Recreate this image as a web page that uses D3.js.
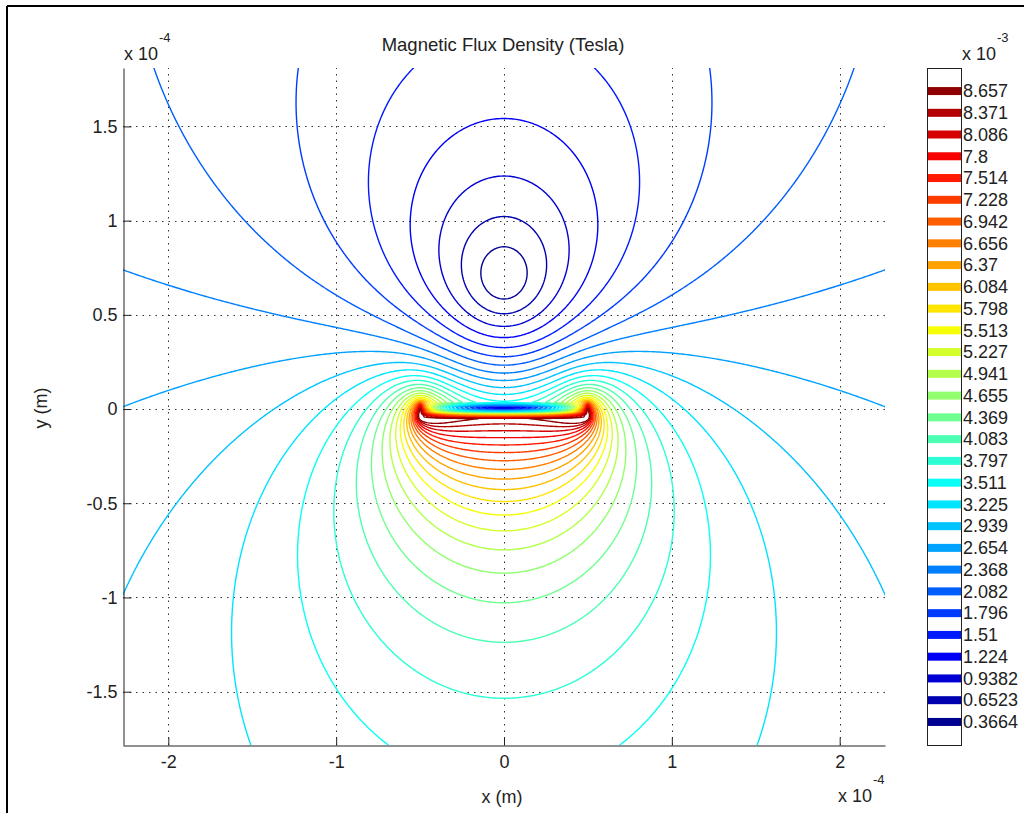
<!DOCTYPE html>
<html>
<head>
<meta charset="utf-8">
<script src="https://cdn.jsdelivr.net/npm/d3@7"></script>
<style>
  body { margin: 0; background: #fff; }
  text { font-family: "Liberation Sans", Arial, Helvetica, sans-serif; fill: #222; }
</style>
</head>
<body>
<svg id="chart" width="1024" height="813"></svg>
<script>
// contour levels (x 10^-3 T)
const levels = [0.3664, 0.6523, 0.9382, 1.224, 1.51, 1.796, 2.082, 2.368, 2.654, 2.939,
  3.225, 3.511, 3.797, 4.083, 4.369, 4.655, 4.941, 5.227, 5.513, 5.798,
  6.084, 6.37, 6.656, 6.942, 7.228, 7.514, 7.8, 8.086, 8.371, 8.657];
const xTicks = [-2, -1, 0, 1, 2];          // x 10^-4 m
const yTicks = [-1.5, -1, -0.5, 0, 0.5, 1, 1.5];
const xExtent = [-2.27, 2.27];
const yExtent = [-1.783, 1.81];

// the strip conductor in a uniform field
const stripHalfWidth = 0.5;       // x 10^-4 m
const stripTop = 0.03;
const stripBottom = -0.05;
const sheetField = 6.43;          // mu0*K/2, x 10^-3 T
const backgroundField = 2.5;      // x 10^-3 T

const svg = d3.select("#chart");
const plotLeft = 123, plotRight = 885, plotTop = 68, plotBottom = 745;

const x = d3.scaleLinear().domain(xExtent).range([plotLeft, plotRight]);
const y = d3.scaleLinear().domain(yExtent).range([plotBottom, plotTop]);

function jet(t) {
  const c = v => Math.round(255 * Math.max(0, Math.min(1, v)));
  return "rgb(" + c(1.5 - Math.abs(4 * t - 3)) + "," + c(1.5 - Math.abs(4 * t - 2)) + "," + c(1.5 - Math.abs(4 * t - 1)) + ")";
}
const levelColor = (d, i) => jet((i + 0.5) / levels.length);

// |B| of a thick strip (made of thin sheets) plus the background field
function fieldAt(px, py) {
  const a = stripHalfWidth, n = 16;
  let sx = 0, sy = 0;
  for (let k = 0; k < n; k++) {
    const s = stripBottom + (k + 0.5) * (stripTop - stripBottom) / n;
    const Y = py - s;
    sx += Math.atan2(-2 * a * Y, px * px - a * a + Y * Y);
    sy += 0.5 * Math.log(((px + a) * (px + a) + Y * Y) / ((px - a) * (px - a) + Y * Y));
  }
  const bx = backgroundField + sheetField / (Math.PI * n) * sx;
  const by = sheetField / (Math.PI * n) * sy;
  return Math.hypot(bx, by);
}

const pad = 2, nx = 470, ny = 420;
const dx = (xExtent[1] - xExtent[0]) / (nx - 1);
const dy = (yExtent[1] - yExtent[0]) / (ny - 1);
const W = nx + 2 * pad, H = ny + 2 * pad;
const values = new Float64Array(W * H);
for (let j = 0; j < H; j++) {
  const yy = yExtent[0] + (j - pad) * dy;
  for (let i = 0; i < W; i++) {
    values[j * W + i] = fieldAt(xExtent[0] + (i - pad) * dx, yy);
  }
}

const contours = d3.contours().size([W, H]).thresholds(levels)(values);
const path = d3.geoPath(d3.geoTransform({
  point(gx, gy) {
    this.stream.point(x(xExtent[0] + (gx - 0.5 - pad) * dx), y(yExtent[0] + (gy - 0.5 - pad) * dy));
  }
}));

// figure frame (only the top and left edges show)
svg.append("line").attr("x1", 7).attr("y1", 6).attr("x2", 1024).attr("y2", 6)
  .attr("stroke", "#000").attr("stroke-width", 2);
svg.append("line").attr("x1", 7).attr("y1", 6).attr("x2", 7).attr("y2", 813)
  .attr("stroke", "#000").attr("stroke-width", 2);

svg.append("clipPath").attr("id", "plotclip")
  .append("rect").attr("x", plotLeft).attr("y", plotTop)
  .attr("width", plotRight - plotLeft).attr("height", plotBottom - plotTop);

// dotted grid
const grid = svg.append("g").attr("stroke", "#333").attr("stroke-width", 1).attr("stroke-dasharray", "1.5,5");
grid.selectAll(".gx").data(xTicks).join("line")
  .attr("x1", d => Math.round(x(d)) + 0.5).attr("x2", d => Math.round(x(d)) + 0.5)
  .attr("y1", plotBottom).attr("y2", plotTop);
grid.selectAll(".gy").data(yTicks).join("line")
  .attr("y1", d => Math.round(y(d)) + 0.5).attr("y2", d => Math.round(y(d)) + 0.5)
  .attr("x1", plotLeft).attr("x2", plotRight);

svg.append("g").attr("clip-path", "url(#plotclip)")
  .selectAll("path").data(contours).join("path")
  .attr("d", path)
  .attr("fill", "none")
  .attr("stroke", (d, i) => levelColor(d, i))
  .attr("stroke-width", 1.4)
  .attr("stroke-linejoin", "round");

// axes, ticks inward like MATLAB
const xAxis = svg.append("g").attr("transform", "translate(0," + (plotBottom + 0.5) + ")")
  .call(d3.axisBottom(x).tickValues(xTicks).tickSize(-8).tickSizeOuter(0).tickPadding(10).tickFormat(d => String(d)));
const yAxis = svg.append("g").attr("transform", "translate(" + (plotLeft + 0.5) + ",0)")
  .call(d3.axisLeft(y).tickValues(yTicks).tickSize(-8).tickSizeOuter(0).tickPadding(6).tickFormat(d => String(d)));
[xAxis, yAxis].forEach(g => {
  g.selectAll("path,line").attr("stroke", "#222");
  g.selectAll("text").attr("fill", "#222").style("font-size", "18px").style("font-family", "Liberation Sans, Arial, sans-serif");
});

svg.append("text").attr("x", 503).attr("y", 51).attr("text-anchor", "middle")
  .style("font-size", "18.5px").text("Magnetic Flux Density (Tesla)");
svg.append("text").attr("x", 502).attr("y", 803).attr("text-anchor", "middle")
  .style("font-size", "18px").text("x (m)");
svg.append("text").attr("transform", "translate(47,408) rotate(-90)").attr("text-anchor", "middle")
  .style("font-size", "18px").text("y (m)");

function exponent(px, py, power) {
  const t = svg.append("text").attr("x", px).attr("y", py).style("font-size", "18px");
  t.append("tspan").text("x 10");
  t.append("tspan").attr("dy", -18).attr("dx", 1).style("font-size", "13px").text(power);
}
exponent(124, 60, "-4");
exponent(838, 802, "-4");
exponent(962, 60, "-3");

// colorbar
const cbLeft = 927, cbRight = 962;
const step = (levels[levels.length - 1] - levels[0]) / (levels.length - 1);
const cb = d3.scaleLinear()
  .domain([levels[0] - 1.06 * step, levels[levels.length - 1] + 1.06 * step])
  .range([plotBottom, plotTop]);
svg.append("g").selectAll("rect").data(levels).join("rect")
  .attr("x", cbLeft).attr("width", cbRight - cbLeft)
  .attr("y", d => cb(d) - 4).attr("height", 8)
  .attr("fill", (d, i) => levelColor(d, i));
svg.append("rect").attr("x", cbLeft + 0.5).attr("y", plotTop + 0.5)
  .attr("width", cbRight - cbLeft - 1).attr("height", plotBottom - plotTop)
  .attr("fill", "none").attr("stroke", "#222");
svg.append("g").selectAll("text").data(levels).join("text")
  .attr("x", cbRight + 1).attr("y", d => cb(d)).attr("dy", "0.35em")
  .style("font-size", "18px").text(d => String(d));
</script>
</body>
</html>
